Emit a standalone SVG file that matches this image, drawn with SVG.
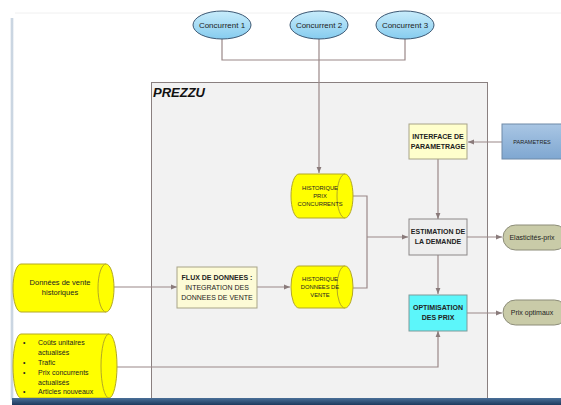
<svg xmlns="http://www.w3.org/2000/svg" width="561" height="405" viewBox="0 0 561 405">
<defs>
<linearGradient id="gBlue" x1="0" y1="0" x2="0" y2="1"><stop offset="0" stop-color="#c8ecfb"/><stop offset="1" stop-color="#86ccef"/></linearGradient>
<linearGradient id="gParam" x1="0" y1="0" x2="0" y2="1"><stop offset="0" stop-color="#a9c6e4"/><stop offset="1" stop-color="#7fa7d1"/></linearGradient>
<linearGradient id="gBar" x1="0" y1="0" x2="0" y2="1"><stop offset="0" stop-color="#4a6f98"/><stop offset="1" stop-color="#1d3a5e"/></linearGradient>
<linearGradient id="gEdge" x1="0" y1="0" x2="1" y2="0"><stop offset="0" stop-color="#ffffff"/><stop offset="0.5" stop-color="#b9c8d8"/><stop offset="1" stop-color="#ffffff"/></linearGradient>
<marker id="arr" viewBox="0 0 10 10" refX="10" refY="5" markerWidth="5" markerHeight="5" orient="auto"><path d="M0,1 L10,5 L0,9 Z" fill="#8a7b7b"/></marker>
<style>
.t{font-family:"Liberation Sans",Arial,sans-serif;fill:#222;text-anchor:middle}
.b{font-weight:bold}
.conn{fill:none;stroke:#9a8888;stroke-width:1.2}
.cyl{fill:#ffff00;stroke:#b3a826;stroke-width:1}
.pill{fill:#c9cba8;stroke:#8c8c78;stroke-width:1}
</style>
</defs>
<rect width="561" height="405" fill="#ffffff"/>
<rect x="10" y="18" width="4" height="382" fill="url(#gEdge)"/>
<line x1="15" y1="13" x2="561" y2="13" stroke="#f0f0f0" stroke-width="1"/>

<g id="prezzu">
<rect x="151.5" y="82.5" width="336" height="316" fill="#f2f2f2" stroke="#8a8080" stroke-width="1"/>
<text x="153" y="97" style="font-family:'Liberation Sans',Arial,sans-serif;font-weight:bold;font-style:italic;font-size:13px;fill:#111">PREZZU</text>
</g>

<g id="connectors">
<path class="conn" d="M222,38 V60 H405 V38"/>
<path class="conn" d="M319,38 V173" marker-end="url(#arr)"/>
<path class="conn" d="M502,142 H468" marker-end="url(#arr)"/>
<path class="conn" d="M438,159 V219" marker-end="url(#arr)"/>
<path class="conn" d="M348,196 H367 V288 H348"/>
<path class="conn" d="M367,237 H408" marker-end="url(#arr)"/>
<path class="conn" d="M467,237 H502" marker-end="url(#arr)"/>
<path class="conn" d="M438,255 V294" marker-end="url(#arr)"/>
<path class="conn" d="M467,313 H502" marker-end="url(#arr)"/>
<path class="conn" d="M107,287 H177" marker-end="url(#arr)"/>
<path class="conn" d="M257,287 H290" marker-end="url(#arr)"/>
<path class="conn" d="M111,367 H438 V331" marker-end="url(#arr)"/>
</g>

<g id="concurrent1">
<ellipse cx="222" cy="25" rx="29" ry="14" fill="url(#gBlue)" stroke="#3d5873" stroke-width="1"/>
<text class="t" x="222" y="28" font-size="8">Concurrent 1</text>
</g>
<g id="concurrent2">
<ellipse cx="319" cy="25" rx="29" ry="14" fill="url(#gBlue)" stroke="#3d5873" stroke-width="1"/>
<text class="t" x="319" y="28" font-size="8">Concurrent 2</text>
</g>
<g id="concurrent3">
<ellipse cx="405" cy="25" rx="29" ry="14" fill="url(#gBlue)" stroke="#3d5873" stroke-width="1"/>
<text class="t" x="405" y="28" font-size="8">Concurrent 3</text>
</g>

<g id="interface">
<rect x="409" y="124" width="58" height="35" fill="#ffffcc" stroke="#a8a488" stroke-width="1"/>
<text class="t b" x="438" y="139" font-size="7">INTERFACE DE</text>
<text class="t b" x="438" y="149" font-size="7">PARAMETRAGE</text>
</g>

<g id="parametres">
<rect x="502" y="124" width="62" height="35" fill="url(#gParam)" stroke="#6f8aa8" stroke-width="1"/>
<text class="t" x="532" y="144" font-size="5.5">PARAMETRES</text>
</g>

<g id="historique-prix">
<path class="cyl" d="M299,174 H345 A8,22 0 0 1 345,218 H299 A8,22 0 0 1 299,174 Z"/>
<path class="cyl" d="M345,174 A8,22 0 0 0 345,218" fill="none"/>
<text class="t" x="320" y="190" font-size="5.8">HISTORIQUE</text>
<text class="t" x="320" y="198" font-size="5.8">PRIX</text>
<text class="t" x="320" y="206" font-size="5.8">CONCURRENTS</text>
</g>

<g id="estimation">
<rect x="409" y="219" width="58" height="36" fill="#eeeeee" stroke="#8c8888" stroke-width="1"/>
<text class="t b" x="438" y="234" font-size="7">ESTIMATION DE</text>
<text class="t b" x="438" y="244" font-size="7">LA DEMANDE</text>
</g>

<g id="elasticites">
<rect x="503" y="225" width="64" height="25" rx="12.5" class="pill"/>
<text class="t" x="532" y="240" font-size="7">Elasticités-prix</text>
</g>

<g id="historique-ventes">
<path class="cyl" d="M299,266 H345 A8,21 0 0 1 345,308 H299 A8,21 0 0 1 299,266 Z"/>
<path class="cyl" d="M345,266 A8,21 0 0 0 345,308" fill="none"/>
<text class="t" x="320" y="281" font-size="5.8">HISTORIQUE</text>
<text class="t" x="320" y="289" font-size="5.8">DONNEES DE</text>
<text class="t" x="320" y="297" font-size="5.8">VENTE</text>
</g>

<g id="optimisation">
<rect x="409" y="295" width="58" height="36" fill="#5cf6fa" stroke="#7f9a9a" stroke-width="1"/>
<text class="t b" x="438" y="310" font-size="7" fill="#1a2a3a">OPTIMISATION</text>
<text class="t b" x="438" y="320" font-size="7">DES PRIX</text>
</g>

<g id="prix-optimaux">
<rect x="503" y="300" width="64" height="25" rx="12.5" class="pill"/>
<text class="t" x="532" y="315" font-size="7">Prix optimaux</text>
</g>

<g id="flux">
<rect x="177" y="267" width="80" height="41" fill="#fdfbd6" stroke="#a8a488" stroke-width="1"/>
<text class="t b" x="217" y="280" font-size="7">FLUX DE DONNEES :</text>
<text class="t" x="217" y="290" font-size="7">INTEGRATION DES</text>
<text class="t" x="217" y="300" font-size="7">DONNEES DE VENTE</text>
</g>

<g id="donnees-vente">
<path class="cyl" d="M21,264 H106 A8,24 0 0 1 106,312 H21 A8,24 0 0 1 21,264 Z"/>
<path class="cyl" d="M106,264 A8,24 0 0 0 106,312" fill="none"/>
<text class="t" x="60" y="285" font-size="7.5">Données de vente</text>
<text class="t" x="60" y="295" font-size="7.5">historiques</text>
</g>

<g id="donnees-actualisees">
<path class="cyl" d="M21,334 H109 A8,32 0 0 1 109,398 H21 A8,32 0 0 1 21,334 Z"/>
<path class="cyl" d="M109,334 A8,32 0 0 0 109,398" fill="none"/>
<g style="font-family:'Liberation Sans',Arial,sans-serif;font-size:7px;fill:#222">
<text x="23" y="345">•</text><text x="38" y="345">Coûts unitaires</text>
<text x="38" y="355">actualisés</text>
<text x="23" y="365">•</text><text x="38" y="365">Trafic</text>
<text x="23" y="375">•</text><text x="38" y="375">Prix concurrents</text>
<text x="38" y="385">actualisés</text>
<text x="23" y="394">•</text><text x="38" y="394">Articles nouveaux</text>
</g>
</g>
<rect x="12" y="398" width="549" height="7" fill="url(#gBar)"/>
</svg>
